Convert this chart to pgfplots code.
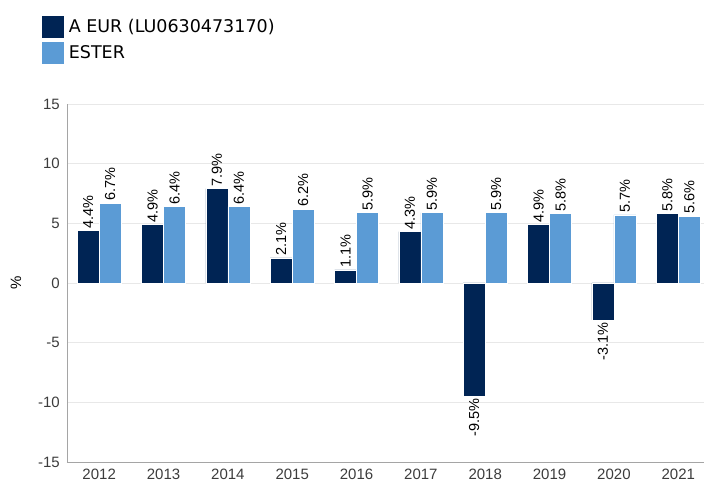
\documentclass[border=0pt]{standalone}
\usepackage{fontspec}
\setmainfont{Liberation Sans}
\newfontfamily\legfont{DejaVu Sans}
\usepackage{pgfplots}
\pgfplotsset{compat=1.18}
\usepackage{pgfplotstable}
\definecolor{navy}{RGB}{0,36,84}
\definecolor{lblue}{RGB}{91,155,213}
\definecolor{gridc}{RGB}{232,232,232}
\definecolor{axc}{RGB}{165,165,165}
\definecolor{tickc}{RGB}{60,60,60}

\pgfplotstableread{
x a neg
0 4.4 0
1 4.9 0
2 7.9 0
3 2.1 0
4 1.1 0
5 4.3 0
6 -9.5 1
7 4.9 0
8 -3.1 1
9 5.8 0
}\dataA
\pgfplotstableread{
x b
0 6.7
1 6.4
2 6.4
3 6.2
4 5.9
5 5.9
6 5.9
7 5.8
8 5.7
9 5.6
}\dataB

\begin{document}
\begin{tikzpicture}
\path[use as bounding box] (0,0) rectangle (704pt,482pt);
\begin{axis}[
  at={(67pt,20pt)}, anchor=south west,
  scale only axis, width=637pt, height=358pt,
  ybar, bar width=22pt,
  ymin=-15, ymax=15, ytick={-15,-10,...,15},
  xmin=-0.5, xmax=9.4,
  xtick={0,...,9},
  xticklabels={2012,2013,2014,2015,2016,2017,2018,2019,2020,2021},
  axis lines*=left,
  axis line style={axc, line width=0.8pt},
  major tick length=0pt,
  ymajorgrids, grid style={gridc, line width=0.8pt},
  /pgf/number format/assume math mode=true,
  yticklabel style={font=\fontsize{15}{16}\selectfont, text=tickc, inner sep=0pt, xshift=-7pt},
  xticklabel style={font=\fontsize{15}{16}\selectfont, text=tickc, inner sep=0pt, yshift=-7pt},
  ylabel={\%}, ylabel style={at={(axis description cs:-0.08,0.5)}, font=\fontsize{15}{16}\selectfont, anchor=center},
  nodes near coords={\pgfmathprintnumber[fixed,precision=1,fixed zerofill,assume math mode=true]{\pgfplotspointmeta}\%},
  legend style={at={(axis description cs:-0.0392,1.2466)}, anchor=north west, draw=none, fill=none,
    font=\legfont\fontsize{17.5}{20}\selectfont, row sep=4pt, column sep=3pt, inner sep=0pt},
  legend cell align=left,
  clip=false,
]
\addplot[fill=navy, draw=white, line width=0.6pt, bar shift=-11pt,
  visualization depends on={\thisrow{neg} \as \isneg},
  every node near coord/.append style={rotate=90, anchor={\ifdim\isneg pt>0.5pt east\else west\fi}, font=\fontsize{14.5}{16}\selectfont, inner sep=2pt, text=black},
  legend image code/.code={\fill[navy] (0pt,-10.5pt) rectangle (21pt,10.5pt);}]
  table[x=x, y=a] {\dataA};
\addlegendentry{A EUR (LU0630473170)}
\addplot[fill=lblue, draw=white, line width=0.6pt, bar shift=11pt,
  every node near coord/.append style={rotate=90, anchor=west, font=\fontsize{14.5}{16}\selectfont, inner sep=2pt, text=black},
  legend image code/.code={\fill[lblue] (0pt,-10.5pt) rectangle (21pt,10.5pt);}]
  table[x=x, y=b] {\dataB};
\addlegendentry{ESTER}
\end{axis}
\end{tikzpicture}
\end{document}
